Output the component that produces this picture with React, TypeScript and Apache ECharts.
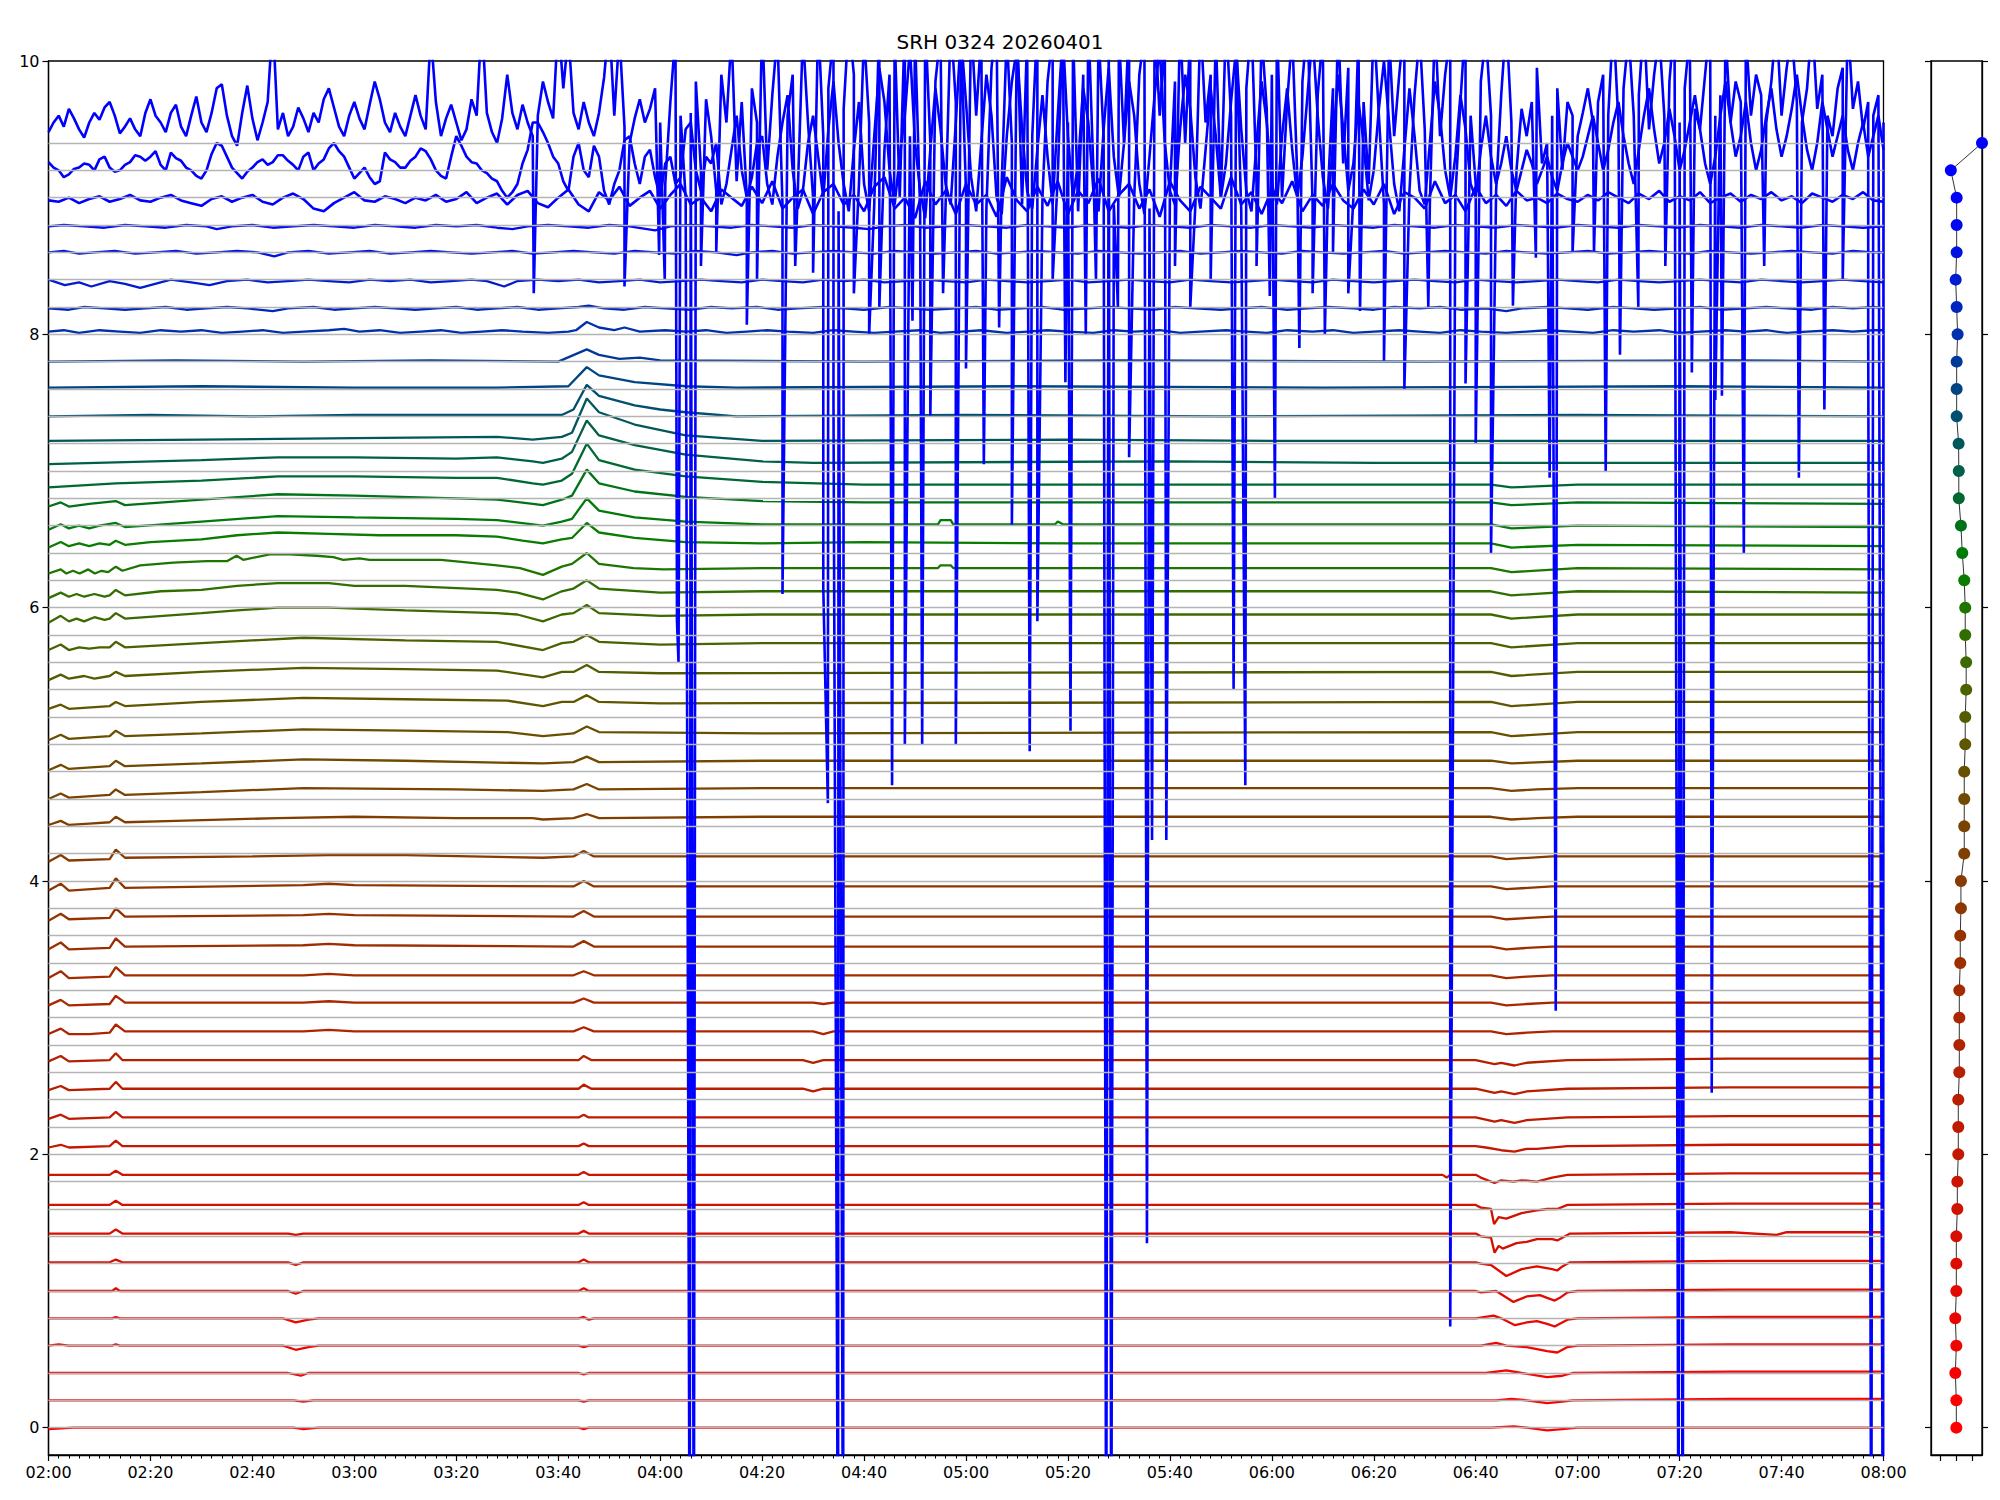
import React, { useEffect, useRef } from "react";
import * as echarts from "echarts";

const TITLE = "SRH 0324 20260401";
const FONT = "DejaVu Sans";
const X_MIN = 0; // minutes after 02:00
const X_MAX = 360;
const X_STEP = 20;
const Y_TICKS = [0, 2, 4, 6, 8, 10];
const PANEL_X_TICKS = [-0.5, 0, 0.5];

// channel nominal positions (grid lines)
const GRID_LEVELS = [
  0, 0.2, 0.4, 0.6, 0.8, 1.0, 1.2, 1.4, 1.6, 1.8, 2.0, 2.2, 2.4, 2.6, 2.8, 3.0,
  3.2, 3.4, 3.6, 3.8, 4.0, 4.2, 4.4, 4.6, 4.8, 5.0, 5.2, 5.4, 5.6, 5.8, 6.0, 6.2,
  6.4, 6.6, 6.8, 7.0, 7.2, 7.4, 7.6, 7.8, 8.0, 8.2, 8.4, 8.6, 8.8, 9.0, 9.2, 9.4,
];

// actual plotted level of each trace
const LEVELS = [
  0.0, 0.2, 0.4, 0.6, 0.8, 1.0, 1.21, 1.42, 1.63, 1.85, 2.06, 2.27, 2.48, 2.69, 2.9, 3.11,
  3.31, 3.52, 3.74, 3.96, 4.18, 4.47, 4.68, 4.88, 5.09, 5.31, 5.53, 5.74, 5.95, 6.12, 6.3, 6.47,
  6.61, 6.77, 6.9, 7.06, 7.22, 7.4, 7.61, 7.8, 8.02, 8.19, 8.39, 8.6, 8.79,
];

const COLORS = [
  "#ff0000", "#fa0200", "#f50300", "#f00500", "#e90700", "#e20a00", "#dc0c00", "#d60f00",
  "#d01200", "#ca1500", "#c41800", "#be1b00", "#b91e00", "#b42100", "#af2400", "#aa2700",
  "#a32b00", "#9c2e00", "#963200", "#8f3600", "#883a00", "#803f00", "#784400", "#704a00",
  "#685000", "#5f5600", "#555c00", "#4a6200", "#3e6800", "#306e00", "#1e7600", "#0a7c00",
  "#007a08", "#007319", "#006932", "#006048", "#00585c", "#004e70", "#004484", "#003a98",
  "#0030ac", "#0026be", "#001cd0", "#0012e1", "#0009f0", "#0000ff", "#0000ff", "#0000ff",
];

// right panel: channel offset markers
const PANEL_X = [
  -0.005, -0.005, -0.037, -0.005, -0.037, -0.005, -0.005, -0.005, 0.026, 0.026, 0.056, 0.056,
  0.056, 0.088, 0.088, 0.088, 0.088, 0.118, 0.118, 0.139, 0.139, 0.243, 0.243, 0.243, 0.243,
  0.274, 0.274, 0.304, 0.304, 0.274, 0.274, 0.243, 0.181, 0.139, 0.072, 0.072, 0.066, 0.005,
  0.005, 0.005, 0.035, 0.005, -0.026, 0.005, 0.005, 0.005, -0.178, 0.8,
];

// trace shapes: [minute, deviation in hundredths, ...]
const S00 = [0,-1, 5,0, 48,0, 50,-1, 53,0, 104,0, 105,-1, 106,0, 283,0, 287.5,1, 290,0, 294,-2, 297,-1, 300,0, 360,0];
const S01 = [0,0, 48,0, 50,-1, 52,0, 104,0, 105,-1, 106,0, 284,0, 287,1, 290,0, 294,-2, 297,-1, 299,0, 330,1, 360,1];
const S02 = [0,0, 47,0, 49.5,-2, 51,0, 104,0, 105,-1, 106,0, 282,0, 286,2, 289,0, 294,-3, 297,-2, 299,0, 330,1, 360,1];
const S03 = [0,0, 2,1, 4,0, 12.5,0, 13.2,1, 14,0, 46,0, 48.5,-3, 51,-1, 53,0, 104,0, 105,-1, 106,0, 281,0, 284,2, 286,0, 290,-1, 294,-4, 296,-5, 298,-1, 300,0, 330,1, 360,1];
const S04 = [0,0, 12.5,0, 13.2,1, 14,0, 46,0, 48.5,-3, 51,-1, 53,0, 104,0, 105,1, 106,-1, 107,0, 280,0, 283.5,2, 285,0, 287.7,-5, 290,-3, 292,-2, 294,-4, 295.5,-6, 296.5,-4, 298,-1, 300,0, 330,1, 360,1];
const S05 = [0,0, 12.5,0, 13.2,2, 14,0, 47,0, 48.5,-2, 50,0, 104,0, 105,2, 106,0, 280,0, 281,-1, 284,0, 287.4,-8, 290,-4, 292.6,-3, 294,-5, 295.5,-7, 296.5,-5, 298,-1, 300,0, 330,1, 360,1];
const S06 = [0,0, 12,0, 13.2,2, 14.5,0, 47,0, 48.5,-2, 50,0, 104,0, 105,2, 106,0, 280,0, 281,-1, 283,-2, 286,-10, 289,-5, 292,-3, 295,-5, 296,-6, 297,-3, 298.5,0, 330,1, 360,1];
const S07 = [0,0, 12,0, 13.2,3, 14.5,0, 47,0, 48.5,-1, 50,0, 104,0, 105,2, 106,0, 280,0, 281,-2, 283,-3, 283.7,-14, 284.5,-9, 285.3,-11, 288,-7, 290,-6, 292,-4, 295,-4, 296,-5, 297,-3, 298.5,0, 330,1, 339,-1, 341,1, 360,1];
const S08 = [0,0, 12,0, 13.2,3, 14.5,0, 104,0, 105,2, 106,0, 280,0, 281,-2, 283,-3, 283.6,-14, 284.5,-9, 286,-10, 289,-6, 292,-4, 294,-3, 296,-3, 298,0, 330,1, 360,1];
const S09 = [0,0, 12,0, 13.2,3, 14.5,0, 104,0, 105,2, 106,0, 273.5,0, 274.3,-2, 275,0, 280,0, 281,-2, 283.7,-6, 285,-4, 287.4,-5, 289,-4, 292,-5, 295,-2, 298,0, 330,1, 360,1];
const S10 = [0,-1, 2.4,1, 4,-1, 12,0, 13.2,4, 14.5,0, 104,0, 105,2, 106,0, 280,0, 282,-1, 285,-3, 287.6,-4, 290,-2, 292,-2, 298,0, 330,1, 360,1];
const S11 = [0,-1, 2.4,2, 4,-1, 12,0, 13.2,4, 14.5,0, 104,0, 105,2, 106,0, 280,0, 283.7,-3, 285,-2, 287.6,-4, 290,-2, 298,0, 330,1, 360,1];
const S12 = [0,-1, 2.4,2, 4,-1, 12,0, 13.2,5, 14.5,0, 104,0, 105,3, 106.5,0, 148,0, 150,-2, 152,0, 280,0, 283.7,-3, 285,-2, 287.6,-4, 290,-2, 298,0, 330,1, 360,1];
const S13 = [0,-1, 2.4,3, 4,-1, 12,0, 13.2,5, 14.5,0, 104,0, 105,3, 106.5,0, 148,0, 150,-2, 152,0, 280,0, 283.7,-3, 285,-2, 287.6,-4, 290,-2, 298,0, 330,1, 360,1];
const S14 = [0,-2, 2.4,2, 4,-2, 8,-2, 12,-1, 13.2,5, 15,0, 50,0, 55,1, 60,0, 103,0, 105,3, 107,0, 150,0, 152,-2, 154,0, 283,0, 286,-2, 290,-1, 295,0, 360,0];
const S15 = [0,-2, 2.4,2, 4,-2, 12,-1, 13.2,5, 15,0, 50,0, 55,1, 60,0, 103,0, 105,3, 107,0, 150,0, 152,-1, 154,0, 283,0, 286,-2, 290,-1, 295,0, 360,0];
const S16 = [0,-2, 2.4,3, 4,-2, 12,-1, 13.2,6, 15,0, 50,0, 55,1, 60,0, 103,0, 105,3, 107,0, 283,0, 286,-2, 290,-1, 295,0, 360,0];
const S17 = [0,-2, 2.4,3, 4,-2, 12,-1, 13.2,6, 15,0, 50,1, 55,2, 60,1, 103,0, 105,4, 107,0, 283,0, 286,-2, 290,-1, 295,0, 360,0];
const S18 = [0,-3, 2.4,2, 4,-2, 12,-1, 13.2,6, 15,0, 50,1, 55,2, 60,1, 103,0, 105,4, 107,0, 283,0, 286,-2, 295,0, 360,0];
const S19 = [0,-3, 2.4,2, 4,-3, 12,-1, 13.2,6, 15,-1, 50,1, 55,2, 60,1, 103,0, 105,4, 107,0, 283,0, 286,-2, 295,0, 360,0];
const S20 = [0,-4, 2.4,1, 4,-3, 12,-2, 13.2,5, 15,-1, 40,0, 55,1, 70,1, 97,-1, 103,0, 105,4, 107,0, 283,0, 286,-2, 295,0, 360,0];
const S21 = [0,-6, 2.4,-3, 4,-6, 8,-5, 12,-4, 13.2,0, 15,-4, 25,-3, 45,-1, 60,0, 80,-1, 95,-1, 97,-2, 103,-1, 105.6,2, 108,-1, 140,0, 283,0, 287,-2, 292,-1, 300,0, 360,0];
const S22 = [0,-8, 2.4,-4, 4,-7, 12,-5, 13.2,-1, 15,-5, 30,-3, 50,0, 80,-1, 97,-2, 103,-1, 105.6,3, 108,-1, 140,0, 283,0, 287,-2, 292,-1, 300,0, 360,0];
const S23 = [0,-7, 2.4,-3, 4,-6, 12,-4, 13.2,0, 15,-4, 30,-2, 50,1, 70,0, 97,-2, 103,-1, 105.6,3, 108,-1, 140,0, 283,0, 287,-2, 300,0, 360,0];
const S24 = [0,-6, 2.4,-2, 4,-5, 12,-3, 13.2,1, 15,-3, 30,-1, 50,2, 70,1, 90,0, 97,-3, 103,-1, 105.6,4, 108,0, 140,-1, 283,0, 287,-3, 300,0, 360,0];
const S25 = [0,-5, 2.4,-2, 4,-5, 12,-3, 13.2,0, 15,-3, 30,0, 50,3, 70,2, 90,1, 97,-3, 100.7,0, 103,0, 105.6,5, 108,0, 120,-1, 283,0, 287,-3, 300,0, 360,0];
const S26 = [0,-6, 2.4,-2, 4,-5, 7,-3, 9,-5, 12,-3, 13.2,0, 15,-3, 30,0, 50,3, 70,2, 88,1, 97,-4, 100.7,0, 103,0, 105.6,5, 108,0, 120,-1, 283,0, 287,-3, 300,0, 360,0];
const S27 = [0,-5, 2.4,-1, 4,-5, 6,-3, 8,-4, 10,-3, 12,-3, 13.2,1, 15,-3, 30,0, 40,2, 50,4, 70,2, 88,1, 97,-5, 100.7,0, 103,1, 105.6,6, 108,1, 120,-1, 140,0, 283,0, 287,-3, 300,0, 360,0];
const S28 = [0,-6, 2.4,-1, 4,-5, 5.5,-3, 7,-5, 9,-2, 11,-4, 12,-3, 13.2,1, 15,-3, 30,1, 37,3, 45,5, 55,5, 70,3, 88,1, 92,0, 97,-5, 100.7,0, 103,1, 105.6,7, 108,1, 120,-1, 140,0, 283,0, 287,-3, 300,0, 360,0];
const S29 = [0,-5, 2.4,-1, 4,-4, 5.5,-2, 7,-4, 9,-2, 11,-4, 12,-3, 13.2,1, 15,-3, 22,0, 30,1, 37,4, 45,6, 55,6, 60,4, 70,4, 88,1, 92,-1, 97,-6, 100.7,0, 103,2, 105.6,8, 108,2, 120,-1, 140,0, 283,0, 287,-3, 300,0, 360,-1];
const S30 = [0,-5, 2.4,-2, 3.5,-5, 4.8,-3, 6.1,-5, 7.8,-2, 9.1,-5, 10.4,-3, 11.7,-4, 13.2,0, 14.5,-3, 18,1, 24.5,3, 31,4, 35,4, 36.9,8, 38.2,5, 43.4,9, 47.4,9, 52.6,8, 55.9,7, 57.8,5, 61,6, 63,5, 70,5, 77,5, 88,1, 92.5,-1, 97,-6, 100.7,0, 102.7,2, 105.6,10, 108,2, 114.8,-1, 120.6,-2, 140,-1, 174.5,-1, 175,1, 177,1, 177.5,-1, 283,-1, 287,-4, 300,-1, 360,-2];
const S31 = [0,-3, 2.4,1, 4,-2, 6,0, 8,-2, 10,0, 12,-1, 13.2,2, 15,-1, 20,1, 30,3, 37,6, 45,8, 55,7, 65,6, 80,6, 88,5, 93,2, 97,0, 100.7,3, 102.7,4, 105.6,15, 108,8, 115,4, 125,1, 140,0, 160,1, 200,0, 283,0, 287,-3, 300,-1, 360,-2];
const S32 = [0,-4, 2.4,0, 4,-3, 6,-1, 8,-3, 10,-1, 13.2,1, 15,-2, 30,2, 45,6, 60,5, 80,4, 88,3, 95,0, 97,-1, 100.7,2, 102.7,4, 105.6,19, 108,10, 115,5, 125,2, 140,0, 174.5,0, 175,3, 177,3, 177.5,0, 197.5,0, 198,2, 199,0, 283,0, 287,-3, 300,-1, 360,-2];
const S33 = [0,-3, 2.4,0, 4,-3, 8,-1, 13.2,1, 15,-2, 30,2, 45,6, 60,5, 80,3, 88,2, 95,-1, 97,-2, 100.7,2, 102.7,5, 105.6,24, 108,14, 115,8, 125,4, 140,1, 160,0, 283,0, 287,-2, 300,0, 360,-1];
const S34 = [0,-2, 13.2,1, 30,3, 45,6, 60,6, 80,5, 88,5, 95,1, 97,0, 100.7,3, 102.7,8, 105.6,30, 108,18, 115,11, 125,6, 140,2, 160,0, 283,0, 287,-2, 300,0, 360,0];
const S35 = [0,-1, 30,2, 45,4, 60,4, 80,3, 88,4, 95,1, 97,0, 100.7,3, 102.7,8, 105.6,31, 108,20, 115,13, 125,6, 140,1, 150,0, 220,1, 260,0, 360,0];
const S36 = [0,0, 30,1, 60,2, 88,3, 95,1, 100.7,3, 102.7,6, 105.6,31, 108,21, 115,12, 125,4, 140,0, 200,1, 240,0, 360,0];
const S37 = [0,0, 20,1, 40,0, 60,1, 88,1, 100.7,1, 103,5, 105.6,23, 108,15, 115,8, 120,5, 125,3, 135,0, 180,1, 230,0, 300,1, 360,0];
const S38 = [0,0, 30,1, 60,0, 88,0, 102,1, 105.6,15, 108,9, 115,4, 125,1, 135,0, 190,1, 250,0, 320,1, 360,0];
const S39 = [0,0, 25,1, 50,0, 75,1, 100,0, 105.6,9, 108,5, 112,2, 116,3, 120,1, 160,0, 210,1, 270,0, 330,1, 360,0];
const S40 = [0,0, 3,1, 6,-1, 10,1, 14,0, 18,-1, 22,1, 26,0, 30,1, 34,-1, 38,0, 42,1, 46,-1, 50,0, 55,1, 58,2, 61,0, 65,1, 69,-1, 73,0, 77,1, 81,-1, 85,0, 89,1, 93,0, 98,-1, 102,0, 103.5,1, 105.6,7, 108,3, 111,1, 113,3, 116,0, 121,1, 125,0, 129,1, 133,-1, 137,0, 141,1, 145,0, 150,-1, 154,1, 158,0, 162,-1, 166,0, 171,1, 175,-1, 179,0, 183,1, 188,-1, 192,0, 196,1, 200,0, 205,-1, 209,1, 213,0, 218,1, 222,-1, 226,0, 231,1, 235,0, 239,-1, 243,1, 248,0, 252,1, 256,-1, 260,0, 265,1, 269,0, 273,-1, 277,1, 281,0, 286,-1, 290,0, 294,1, 299,0, 303,-1, 307,1, 311,0, 316,1, 320,-1, 324,0, 329,1, 333,0, 337,1, 341,-1, 345,0, 350,1, 354,0, 358,1, 360,1];
const S41 = [0,0, 4,-1, 7,1, 11,0, 15,-1, 19,0, 23,1, 27,-1, 31,0, 35,1, 39,0, 44,-2, 47,0, 52,1, 56,-1, 60,0, 64,1, 68,0, 72,-1, 76,0, 80,1, 84,-1, 88,0, 92,1, 96,-1, 100,0, 104,1, 106,2, 109,0, 113,-1, 117,1, 121,0, 126,-1, 130,1, 134,0, 139,1, 143,-1, 147,0, 152,1, 156,0, 160,-1, 165,1, 169,0, 173,-1, 178,0, 182,1, 186,-1, 191,0, 195,1, 199,-1, 204,0, 208,1, 212,0, 217,-1, 221,1, 225,0, 230,-1, 234,0, 238,1, 243,-1, 247,0, 251,1, 256,0, 260,-1, 264,1, 269,0, 273,1, 277,-1, 282,0, 286,-2, 289,0, 294,1, 298,0, 302,-1, 307,1, 311,0, 315,-1, 320,0, 324,1, 328,-1, 333,0, 337,1, 341,0, 346,-1, 350,1, 354,0, 358,1, 360,0];
const S42 = [0,1, 3.2,-3, 6,-1, 8.4,-4, 12,0, 15,-2, 18,-5, 22,-1, 24,1, 28,-1, 31.6,-3, 35,0, 39,1, 43,-1, 47,0, 51,1, 55,0, 59,-1, 63,1, 67,0, 71,1, 75,-1, 79,0, 83,1, 86,0, 89.4,-4, 92,0, 96,1, 100,0, 104,1, 108,-1, 112,0, 116,1, 120,-1, 124,0, 128,1, 132,0, 136,-1, 140,1, 144,0, 148,-1, 152,1, 156,0, 160,1, 164,-1, 168,0, 172,1, 176,0, 180,-1, 184,1, 188,0, 192,-1, 196,0, 200,1, 204,-1, 208,0, 212,1, 216,0, 220,-1, 224,1, 228,0, 232,-1, 236,0, 240,1, 244,0, 248,-1, 252,1, 256,0, 260,-1, 264,0, 268,1, 272,0, 276,-1, 280,1, 284,0, 288,-1, 292,0, 296,1, 300,0, 304,-1, 308,1, 312,0, 316,-1, 320,0, 324,1, 328,0, 332,-1, 336,1, 340,0, 344,-1, 348,0, 352,1, 356,0, 360,-1];
const S43 = [0,0, 3,1, 6,-1, 9,0, 13,1, 17,-1, 21,0, 25,1, 29,-1, 33,0, 37,1, 41,0, 44.3,-3, 47,0, 51,1, 55,-1, 59,0, 63,1, 67,-1, 71,0, 75,1, 79,0, 83,-1, 87,0, 91,1, 95,-1, 99,0, 103,1, 107,0, 111,-1, 115,1, 119,0, 123,-1, 127,1, 131,0, 135,-2, 138,0, 142,1, 146,-1, 150,0, 154,1, 158,0, 162,-1, 166,1, 170,0, 174,-1, 178,0, 182,1, 186,-1, 190,0, 194,1, 198,0, 202,-1, 206,1, 210,0, 214,-1, 218,0, 222,1, 226,-1, 230,0, 234,1, 238,0, 242,-1, 246,1, 250,0, 254,-1, 258,0, 262,1, 266,-1, 270,0, 274,1, 278,0, 282,-1, 286,1, 290,0, 294,-1, 298,0, 302,1, 306,-1, 310,0, 314,1, 318,0, 322,-1, 326,1, 330,0, 334,-1, 338,0, 342,1, 346,0, 350,-1, 354,1, 358,0, 360,0];
const S44 = [0,0, 3,1, 7,0, 11,-1, 15,1, 19,0, 23,-1, 27,1, 31,0, 33,-2, 36,0, 40,1, 44,-1, 48,0, 52,1, 56,0, 60,-1, 64,1, 68,0, 72,-1, 76,1, 80,0, 84,1, 88,-1, 91,-2, 94,0, 98,1, 102,0, 106,-1, 110,1, 114,0, 119,-3, 122,0, 126,1, 130,0, 134,-1, 138,1, 142,0, 146,-1, 150,1, 154,0, 158,-1, 161,-2, 164,0, 168,1, 172,-1, 176,0, 180,1, 184,0, 188,-1, 192,1, 196,0, 200,-1, 204,1, 208,0, 212,-1, 216,1, 220,0, 224,-1, 228,1, 232,0, 236,-1, 240,1, 244,0, 248,-1, 252,1, 256,0, 260,-1, 264,1, 268,0, 272,-1, 276,1, 280,0, 284,-1, 288,1, 292,0, 296,-1, 300,1, 304,0, 308,-1, 312,1, 316,0, 320,-1, 324,1, 328,0, 332,-1, 336,1, 340,0, 344,-1, 348,1, 352,0, 356,-1, 360,0];

const TRACE_SHAPES = [
  S00, S01, S02, S03, S04, S05, S06, S07, S08, S09, S10, S11, S12, S13, S14, S15,
  S16, S17, S18, S19, S20, S21, S22, S23, S24, S25, S26, S27, S28, S29, S30, S31,
  S32, S33, S34, S35, S36, S37, S38, S39, S40, S41, S42, S43, S44,
];

// noisy top channels: 9.0 sampled every 2 min, 9.2 and 9.4 every minute
const K45 = [
  8.98, 8.97, 9.00, 8.96, 8.99, 9.01, 8.97, 8.99, 9.02, 8.98,
  8.97, 9.00, 9.02, 8.98, 8.96, 8.94, 8.99, 9.01, 8.97, 9.00,
  9.02, 8.97, 8.95, 9.00, 9.03, 8.99, 8.92, 8.90, 8.96, 9.00,
  9.04, 8.98, 8.97, 9.01, 8.99, 8.96, 9.00, 8.98, 9.02, 8.97,
  8.99, 9.04, 8.96, 9.00, 9.03, 8.95, 9.02, 9.05, 8.96, 8.93,
  9.00, 9.06, 8.95, 8.90, 9.04, 8.98, 9.08, 8.94, 9.00, 9.05,
  8.92, 9.02, 9.10, 8.95, 9.00, 8.90, 9.06, 9.00, 8.94, 9.08,
  8.96, 9.12, 8.92, 9.00, 9.06, 8.88, 9.04, 9.10, 8.95, 9.02,
  8.90, 9.08, 9.15, 8.92, 9.00, 8.85, 9.12, 8.95, 9.05, 8.88,
  9.10, 8.95, 9.02, 8.86, 9.15, 8.98, 8.90, 9.08, 8.94, 9.12,
  8.88, 9.05, 8.96, 9.14, 8.90, 9.02, 9.10, 8.92, 9.06, 8.86,
  9.12, 8.98, 8.90, 9.08, 9.00, 8.92, 9.15, 8.95, 9.04, 8.88,
  9.06, 8.96, 9.12, 8.90, 9.02, 8.94, 9.10, 8.98, 8.92, 9.06,
  8.95, 9.10, 8.88, 9.04, 9.00, 8.92, 9.12, 8.96, 9.02, 8.90,
  9.08, 8.96, 9.02, 8.94, 9.05, 8.98, 9.00, 8.96, 9.03, 8.99,
  8.97, 9.02, 8.98, 9.04, 9.00, 8.96, 9.03, 8.99, 9.05, 8.97,
  9.01, 8.98, 9.04, 8.96, 9.00, 9.03, 8.97, 9.02, 8.99, 9.04,
  8.98, 9.01, 8.96, 9.03, 9.00, 8.97, 9.02, 8.99, 9.04, 8.98,
  8.97,
];
const K46 = [
  9.26, 9.22, 9.20, 9.15, 9.17, 9.21, 9.22, 9.25, 9.24, 9.20,
  9.28, 9.30, 9.22, 9.19, 9.20, 9.24, 9.26, 9.31, 9.30, 9.27,
  9.30, 9.34, 9.24, 9.20, 9.33, 9.29, 9.27, 9.22, 9.20, 9.16,
  9.14, 9.20, 9.32, 9.40, 9.38, 9.30, 9.22, 9.18, 9.14, 9.19,
  9.22, 9.26, 9.28, 9.24, 9.26, 9.31, 9.31, 9.27, 9.24, 9.20,
  9.30, 9.33, 9.20, 9.25, 9.28, 9.36, 9.40, 9.34, 9.30, 9.22,
  9.14, 9.18, 9.22, 9.15, 9.10, 9.12, 9.33, 9.28, 9.26, 9.22,
  9.22, 9.27, 9.30, 9.36, 9.34, 9.28, 9.20, 9.16, 9.14, 9.30,
  9.45, 9.38, 9.30, 9.26, 9.25, 9.20, 9.18, 9.14, 9.12, 9.05,
  9.00, 9.04, 9.10, 9.25, 9.35, 9.55, 9.55, 9.48, 9.40, 9.30,
  9.25, 9.12, 9.05, 9.30, 9.40, 9.20, 9.15, 9.38, 9.30, 9.05,
  8.95, 9.10, 9.20, 9.42, 9.45, 9.25, 9.10, 9.30, 9.35, 9.15,
  9.00, 9.25, 9.30, 9.10, 9.15, 9.50, 9.55, 9.20, 9.05, 9.30,
  9.25, 9.40, 8.95, 9.10, 9.35, 9.60, 9.20, 9.00, 9.15, 9.40,
  9.45, 9.10, 8.95, 9.30, 9.55, 9.75, 9.20, 8.92, 9.05, 9.40,
  9.60, 9.30, 9.00, 9.50, 9.85, 9.40, 9.10, 8.90, 9.35, 9.70,
  9.10, 8.90, 9.45, 9.95, 9.70, 9.20, 8.95, 9.30, 9.60, 10.1,
  9.40, 9.05, 8.85, 9.35, 9.80, 9.50, 9.10, 8.95, 9.55, 10.2,
  9.70, 9.15, 8.90, 9.40, 9.90, 9.60, 9.00, 8.88, 9.45, 9.85,
  10.1, 9.50, 9.05, 8.92, 9.35, 9.75, 9.30, 8.95, 9.60, 10.2,
  9.45, 9.00, 9.25, 9.80, 9.55, 9.05, 8.90, 9.50, 9.95, 9.30,
  9.00, 9.40, 9.85, 9.60, 9.10, 8.88, 9.30, 9.75, 10.1, 9.40,
  9.05, 8.95, 9.50, 9.90, 9.65, 9.15, 8.92, 9.35, 9.80, 9.45,
  9.00, 9.25, 9.70, 10.1, 9.50, 9.05, 8.90, 9.40, 9.85, 9.55,
  9.10, 8.95, 9.45, 9.80, 9.35, 9.00, 9.30, 9.75, 10.2, 9.60,
  9.15, 8.92, 9.40, 9.90, 9.50, 9.05, 9.25, 9.70, 9.40, 8.98,
  9.20, 9.65, 10.0, 9.55, 9.10, 8.90, 9.35, 9.80, 9.45, 9.05,
  8.95, 9.40, 9.85, 9.60, 9.20, 9.00, 9.30, 9.75, 9.50, 9.10,
  9.00, 9.35, 9.60, 9.30, 9.10, 9.25, 9.45, 9.20, 9.05, 9.20,
  9.35, 9.25, 9.10, 9.20, 9.30, 9.15, 9.05, 9.25, 9.40, 9.30,
  9.20, 9.30, 9.45, 9.60, 9.40, 9.20, 9.35, 9.55, 9.70, 9.45,
  9.25, 9.10, 9.35, 9.60, 9.80, 9.50, 9.25, 9.40, 9.65, 9.45,
  9.20, 9.35, 9.55, 9.75, 9.50, 9.25, 9.10, 9.30, 9.60, 9.85,
  9.55, 9.30, 9.45, 9.70, 9.40, 9.20, 9.35, 9.60, 9.80, 9.50,
  9.30, 9.45, 9.65, 9.90, 9.60, 9.35, 9.20, 9.40, 9.70, 9.50,
  9.30, 9.45, 9.60, 9.35, 9.20, 9.40, 9.55, 9.30, 9.45, 9.60,
  9.35,
];
const K47 = [
  9.48, 9.55, 9.60, 9.52, 9.65, 9.58, 9.50, 9.44, 9.55, 9.62,
  9.57, 9.66, 9.70, 9.60, 9.47, 9.52, 9.58, 9.50, 9.45, 9.62,
  9.72, 9.60, 9.55, 9.48, 9.62, 9.68, 9.52, 9.45, 9.60, 9.74,
  9.55, 9.48, 9.62, 9.80, 9.83, 9.60, 9.45, 9.38, 9.62, 9.82,
  9.58, 9.42, 9.55, 9.70, 10.3, 9.50, 9.62, 9.45, 9.52, 9.66,
  9.58, 9.48, 9.62, 9.55, 9.72, 9.80, 9.66, 9.52, 9.45, 9.60,
  9.70, 9.58, 9.50, 9.68, 9.85, 9.72, 9.55, 9.48, 9.62, 9.52,
  9.45, 9.60, 9.75, 9.60, 9.50, 10.2, 9.70, 9.45, 9.58, 9.68,
  9.55, 9.42, 9.50, 9.72, 9.60, 10.3, 9.62, 9.48, 9.40, 9.58,
  9.90, 9.62, 9.50, 9.68, 9.55, 9.45, 9.60, 9.85, 9.70, 9.58,
  10.3, 9.80, 10.2, 9.62, 9.50, 9.70, 9.55, 9.45, 9.62, 9.88,
  10.3, 9.60, 10.2, 9.52, 9.40, 9.58, 9.72, 9.55, 9.65, 9.80,
  9.55, 9.10, 9.70, 10.2, 9.60, 9.00, 9.62, 9.85, 9.20, 9.72,
  9.45, 9.05, 9.90, 9.55, 10.2, 9.12, 9.70, 9.00, 9.80, 9.55,
  10.3, 9.20, 9.75, 10.2, 8.95, 9.60, 9.90, 9.05, 10.2, 9.55,
  9.00, 10.3, 9.45, 9.80, 10.2, 8.90, 9.65, 10.3, 9.90, 9.10,
  10.2, 9.55, 8.95, 10.3, 9.35, 9.90, 10.2, 9.00, 10.3, 9.45,
  10.2, 8.90, 10.3, 9.40, 9.85, 10.2, 8.95, 10.3, 9.70, 10.2,
  9.05, 10.3, 9.60, 10.2, 8.92, 9.95, 10.3, 9.10, 10.2, 9.40,
  10.3, 8.95, 10.2, 9.45, 10.3, 9.00, 9.85, 10.2, 9.15, 10.3,
  9.55, 10.2, 8.90, 9.90, 10.3, 9.20, 10.2, 9.45, 10.3, 8.95,
  10.2, 9.40, 10.3, 9.00, 9.90, 10.2, 8.92, 10.3, 9.60, 10.2,
  9.05, 9.85, 10.3, 9.40, 10.2, 8.95, 10.3, 9.55, 9.90, 10.2,
  9.00, 10.3, 9.60, 10.2, 8.90, 9.80, 10.3, 9.10, 10.2, 9.65,
  9.90, 10.3, 9.00, 9.70, 10.2, 9.15, 9.85, 10.3, 8.95, 9.75,
  10.2, 9.05, 9.80, 10.3, 9.25, 9.95, 9.00, 10.2, 9.70, 9.10,
  10.3, 9.60, 8.95, 10.2, 9.45, 9.90, 10.3, 9.05, 9.75, 10.2,
  9.50, 8.95, 10.3, 9.45, 9.90, 10.2, 9.00, 9.70, 10.3, 9.60,
  9.10, 9.85, 10.2, 9.60, 9.05, 9.75, 10.3, 9.55, 9.20, 9.65,
  9.45, 9.70, 9.95, 9.25, 9.40, 9.60, 9.80, 9.20, 9.70, 9.60,
  9.45, 9.62, 9.80, 9.55, 9.70, 9.90, 9.60, 10.3, 9.55, 9.80,
  10.2, 9.60, 9.75, 10.3, 9.50, 9.90, 10.2, 9.60, 9.85, 10.3,
  9.55, 9.80, 10.2, 9.65, 9.50, 9.90, 10.3, 9.60, 9.75, 10.2,
  9.55, 9.85, 9.70, 10.2, 9.60, 9.90, 9.75, 9.55, 9.85, 10.3,
  9.60, 9.95, 10.2, 9.70, 9.55, 9.80, 10.3, 9.65, 9.90, 9.60,
  9.45, 9.80, 9.95, 10.3, 9.65, 9.85, 9.50, 9.70, 9.60, 9.75,
  9.55,
];

// narrow downward glitches of the 9.4 channel: time (min) and lowest value
const SPIKE_T = [
  95.2, 113, 119.8, 120.9, 123.3, 123.6, 128, 131, 137, 139, 144, 146.5, 150, 152, 152.9, 154,
  158, 161, 163, 165.5, 168, 169.5, 171.4, 173, 175.5, 178, 180, 183.5, 186.5, 189, 192.5, 194,
  197, 199.5, 200.5, 203.5, 205.5, 209.8, 212, 215.5, 216.5, 219.3, 221, 224, 228, 232.5, 234.8,
  237, 239.6, 240.6, 245.4, 248, 250.4, 252, 255, 257.3, 262, 266, 270.7, 275, 278, 280, 283,
  287.3, 291.8, 294.5, 295.7, 299, 303.2, 305.5, 308.3, 311.9, 317.2, 322.4, 326.3, 327, 328.3,
  332.6, 336.6, 343.4, 348.4, 352, 357,
];
const SPIKE_MIN = [
  8.3, 8.35, 8.58, 8.4, 5.9, 5.6, 8.5, 8.6, 8.07, 8.4, 6.1, 8.5, 8.45, 6.15, 4.57, 7.5,
  8.3, 8.0, 8.2, 4.7, 5.0, 8.1, 5.0, 7.4, 8.3, 5.0, 7.75, 7.05, 8.05, 6.6, 4.95, 5.9,
  8.4, 7.65, 5.1, 8.0, 8.4, 8.2, 7.1, 1.35, 4.3, 4.3, 8.5, 8.2, 8.4, 5.4, 4.7,
  8.5, 8.28, 6.8, 7.9, 8.3, 8.0, 8.6, 8.3, 8.17, 7.8, 7.6, 8.2, 0.74, 7.64, 7.2, 6.4,
  8.21, 8.56, 6.95, 3.05, 8.6, 8.6, 7.0, 7.85, 8.2, 8.5, 7.72, 2.45, 7.52, 7.55,
  6.4, 8.5, 6.95, 7.45, 8.4, 8.0,
];
// full drop-outs of the 9.4 channel (below the axis): start and end minute
const DROP_START = [125.8, 154.9, 207.5, 319.8, 357.6];
const DROP_END = [126.6, 155.9, 208.5, 320.6, 359.9];

function fmtTime(v: number): string {
  const h = 2 + Math.floor(v / 60);
  const m = Math.round(v % 60);
  return `${String(h).padStart(2, "0")}:${String(m).padStart(2, "0")}`;
}

function buildOption() {
  const series: any[] = [];

  // grid lines at each channel position
  series.push({
    type: "line",
    xAxisIndex: 0,
    yAxisIndex: 0,
    data: [[-10, -10]],
    showSymbol: false,
    lineStyle: { opacity: 0 },
    silent: true,
    z: 1,
    markLine: {
      silent: true,
      symbol: ["none", "none"],
      label: { show: false },
      animation: false,
      lineStyle: { color: "#b4b4b4", width: 1.4, type: "solid" },
      data: GRID_LEVELS.map((v) => ({ yAxis: v })),
    },
  });

  const addTrace = (data: number[][], color: string, z: number, width: number) => {
    series.push({
      type: "line",
      xAxisIndex: 0,
      yAxisIndex: 0,
      data,
      showSymbol: false,
      symbol: "none",
      smooth: false,
      clip: true,
      silent: true,
      z,
      lineStyle: { color, width },
      emphasis: { disabled: true },
    });
  };

  TRACE_SHAPES.forEach((shape, k) => {
    const pts: number[][] = [];
    for (let i = 0; i < shape.length; i += 2) {
      pts.push([shape[i], LEVELS[k] + shape[i + 1] / 100]);
    }
    addTrace(pts, COLORS[k], 2, 2.3);
  });

  addTrace(K45.map((v, i) => [i * 2, v]), COLORS[45], 3, 2.6);
  addTrace(K46.map((v, i) => [i, v]), COLORS[46], 3, 2.6);

  const top: number[][] = K47.map((v, i) => [i, v]);
  SPIKE_T.forEach((t, i) => top.push([t, SPIKE_MIN[i]]));
  DROP_START.forEach((t, i) => {
    top.push([t, -1.5]);
    top.push([DROP_END[i], -1.5]);
  });
  top.sort((a, b) => a[0] - b[0]);
  addTrace(top, COLORS[47], 4, 2.6);

  // right panel markers
  series.push({
    type: "line",
    xAxisIndex: 1,
    yAxisIndex: 1,
    data: PANEL_X.map((x, k) => ({
      value: [x, GRID_LEVELS[k]],
      itemStyle: { color: COLORS[k] },
    })),
    symbol: "circle",
    symbolSize: 12,
    showSymbol: true,
    clip: false,
    silent: true,
    z: 5,
    lineStyle: { color: "#333333", width: 1 },
    itemStyle: { borderWidth: 0 },
    emphasis: { disabled: true },
  });

  const tickStyle = { color: "#000", width: 1.2 };
  const labelStyle = { color: "#000", fontSize: 16, fontFamily: FONT };

  return {
    animation: false,
    backgroundColor: "#ffffff",
    title: {
      text: TITLE,
      left: "center",
      top: 27,
      textStyle: { fontSize: 20, fontWeight: "normal", fontFamily: FONT, color: "#000" },
    },
    grid: [
      {
        left: 48.5, top: 61, width: 1835, height: 1394,
        show: true, borderColor: "#000", borderWidth: 1.3, backgroundColor: "transparent",
        containLabel: false, outerBoundsMode: "none",
      },
      {
        left: 1931, top: 61, width: 51, height: 1394,
        show: true, borderColor: "#000", borderWidth: 1.3, backgroundColor: "transparent",
        containLabel: false, outerBoundsMode: "none",
      },
    ],
    xAxis: [
      {
        type: "value", gridIndex: 0, min: X_MIN, max: X_MAX, interval: X_STEP,
        axisLine: { show: true, onZero: false, lineStyle: { color: "#000", width: 1.3 } },
        axisTick: { show: true, inside: false, length: 6, lineStyle: tickStyle },
        minorTick: { show: true, splitNumber: 10, length: 3.5, lineStyle: { color: "#000", width: 1 } },
        axisLabel: { ...labelStyle, margin: 9, formatter: (v: number) => fmtTime(v) },
        splitLine: { show: false },
        minorSplitLine: { show: false },
      },
      {
        type: "value", gridIndex: 1, min: -0.8, max: 0.8,
        axisLine: { show: true, onZero: false, lineStyle: { color: "#000", width: 1.3 } },
        axisTick: { show: true, inside: false, length: 6, lineStyle: tickStyle, customValues: PANEL_X_TICKS },
        axisLabel: { show: false },
        splitLine: { show: false },
      },
    ],
    yAxis: [
      {
        type: "value", gridIndex: 0, min: -0.2, max: 10, position: "left",
        axisLine: { show: true, onZero: false, lineStyle: { color: "#000", width: 1.3 } },
        axisTick: { show: true, inside: false, length: 6, lineStyle: tickStyle, customValues: Y_TICKS },
        axisLabel: { ...labelStyle, margin: 9, customValues: Y_TICKS, formatter: (v: number) => String(v) },
        splitLine: { show: false },
      },
      {
        type: "value", gridIndex: 1, min: -0.2, max: 10, position: "left",
        axisLine: { show: true, onZero: false, lineStyle: { color: "#000", width: 1.3 } },
        axisTick: { show: true, inside: false, length: 6, lineStyle: tickStyle, customValues: Y_TICKS },
        axisLabel: { show: false },
        splitLine: { show: false },
      },
      {
        type: "value", gridIndex: 1, min: -0.2, max: 10, position: "right",
        axisLine: { show: true, onZero: false, lineStyle: { color: "#000", width: 1.3 } },
        axisTick: { show: true, inside: false, length: 6, lineStyle: tickStyle, customValues: Y_TICKS },
        axisLabel: { show: false },
        splitLine: { show: false },
      },
    ],
    series,
  };
}

export default function App() {
  const ref = useRef<HTMLDivElement>(null);
  useEffect(() => {
    if (!ref.current) return;
    const chart = echarts.init(ref.current, undefined, { renderer: "svg" });
    chart.setOption(buildOption() as any);
    return () => chart.dispose();
  }, []);
  return (
    <div
      ref={ref}
      style={{ position: "fixed", left: 0, top: 0, width: 2000, height: 1500, background: "#fff" }}
    />
  );
}
